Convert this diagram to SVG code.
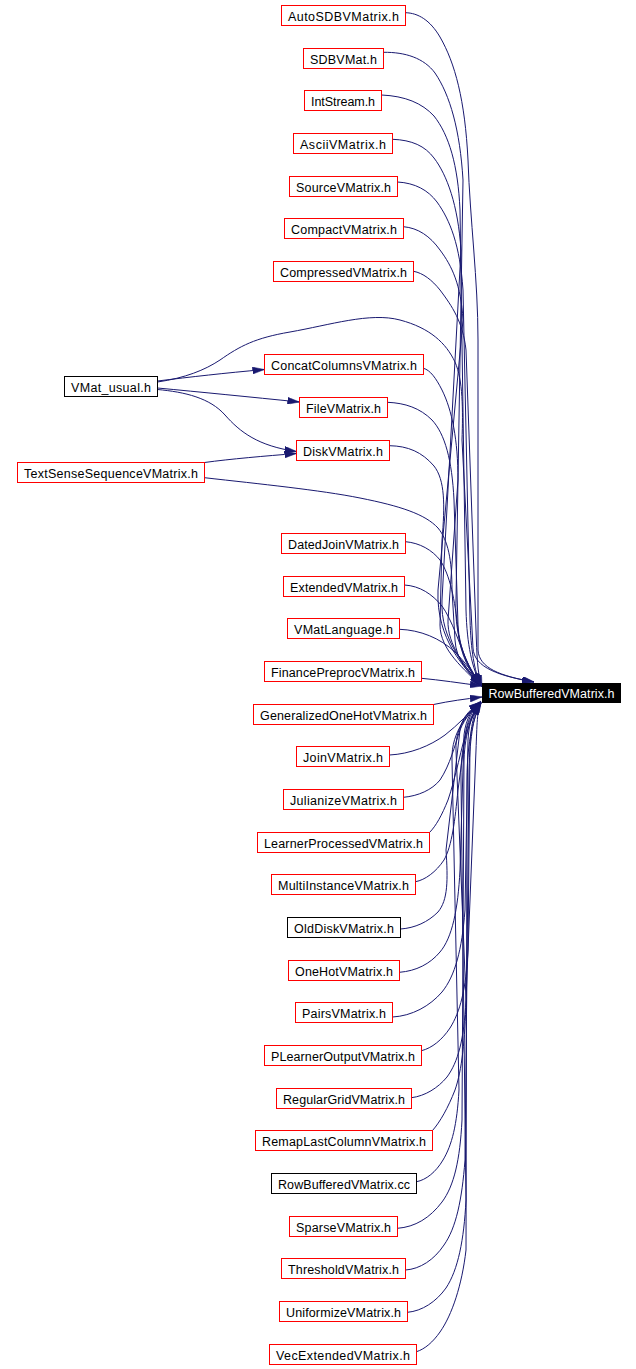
<svg xmlns="http://www.w3.org/2000/svg" width="636" height="1369" viewBox="0 0 636 1369">
<defs>
<style>
.n rect{fill:#fff;stroke:#f00;stroke-width:1;shape-rendering:crispEdges}
.n.k rect{stroke:#000}
.n text{font-family:"Liberation Sans",Arial,sans-serif;font-size:12.5px;fill:#000;text-anchor:middle}
#t rect{fill:#000;stroke:#000;stroke-width:1;shape-rendering:crispEdges}
#t text{font-family:"Liberation Sans",Arial,sans-serif;font-size:12.5px;fill:#fff;text-anchor:middle}
.e path{fill:none;stroke:#191970;stroke-width:1;marker-end:url(#a)}
</style>
<marker id="a" markerUnits="userSpaceOnUse" viewBox="0 0 12 7" refX="12" refY="3.5" markerWidth="12" markerHeight="7" orient="auto">
<path d="M0,0 L12,3.5 L0,7 z" fill="#191970" stroke="#191970" stroke-width="0.5"/>
</marker>
</defs>
<rect width="636" height="1369" fill="#fff"/>
<g class="e" id="edges">
<path d="M405.5,12.7 C418,13 430,20 440,37 C455,63 465,100 468,160 C470,220 478,280 478,340 L478,650 C479,668 500,676 534,682"/>
<path d="M157.5,382 C185,378 205,370 220,360 C240,346 255,338 290,332 C330,325 370,312 400,320 C430,328 446,343 455,362 C463,380 463,410 462,440 L473,648 C474,668 500,676 534,682"/>
<path d="M383.5,52.3 C405,52 424,58 435,73 C450,95 460,130 463,180 L456,600 C454,640 468,668 481,684"/>
<path d="M381.5,95 C405,96 422,103 434,116 C449,135 458,165 460,210 L466,610 C467,645 472,668 481,685"/>
<path d="M392.5,139.3 C412,140 425,146 434,158 C447,175 458,205 461,250 L442,600 C440,640 466,668 481,685"/>
<path d="M397.5,182 C415,183 428,190 437,202 C450,220 460,245 463,290 L470,620 C471,650 474,670 481,686"/>
<path d="M403.5,226.7 C418,228 430,236 440,250 C452,266 461,285 463,320 L438,590 C436,640 465,668 481,686"/>
<path d="M413.5,271.3 C423,273 432,280 440,290 C452,306 463,322 466,350 L476,630 C477,655 477,672 482,687"/>
<path d="M423.5,368.3 C430,370 436,378 442,390 C452,410 458,440 458,480 L448,620 C447,645 466,668 481,685"/>
<path d="M387.5,402.3 C405,403 420,408 432,420 C445,434 452,460 454,500 L458,625 C459,650 470,670 481,685"/>
<path d="M389.5,445.7 C408,446 422,452 434,466 C445,480 445,505 442,540 L440,625 C440,650 465,670 481,686"/>
<path d="M204.5,477.7 C260,484 320,490 360,498 C400,506 425,514 438,528 C448,540 452,560 452,590 L455,640 C456,660 468,672 481,686"/>
<path d="M405.5,541.7 C420,543 432,550 440,560 C450,575 455,600 458,630 C460,655 470,672 481,686"/>
<path d="M404.5,585 C420,586 432,594 442,606 C452,620 460,645 466,660 C470,670 475,678 481,686"/>
<path d="M399.5,629.3 C420,630 440,638 455,652 C465,662 474,674 481,686"/>
<path d="M421.5,678.3 C440,680 460,683 482,686"/>
<path d="M433.5,704.5 C450,701 465,699 482,697"/>
<path d="M389.5,755 C410,754 430,746 445,735 C458,725 470,712 481,701"/>
<path d="M403.5,797.3 C418,796 432,790 440,780 C450,765 455,745 460,730 C465,718 472,710 481,702"/>
<path d="M429.5,832.5 C436,826 442,815 448,800 C455,780 462,745 468,725 C472,715 476,708 481,702"/>
<path d="M415.5,881.7 C425,880 436,872 444,860 C452,846 455,820 458,790 L466,730 C469,716 474,708 481,702"/>
<path d="M400.5,929 C415,928 428,922 438,912 C448,900 448,880 446,850 L460,730 C462,716 472,708 481,702"/>
<path d="M399.5,972.3 C416,971 430,964 440,952 C452,938 458,910 460,870 L464,735 C466,718 472,709 481,702"/>
<path d="M392.5,1017 C412,1016 430,1006 442,992 C455,976 462,950 465,910 L468,740 C469,720 474,710 481,702"/>
<path d="M421.5,1050.7 C432,1048 442,1040 450,1028 C460,1012 466,990 468,950 L470,745 C471,722 475,710 481,702"/>
<path d="M411.5,1097.7 C425,1096 438,1088 447,1077 C458,1062 464,1040 466,1000 L456,750 C455,725 470,710 481,702"/>
<path d="M432.5,1130.5 C440,1122 448,1108 455,1090 C462,1070 465,1040 466,1000 L476,750 C477,725 477,710 481,702"/>
<path d="M416.5,1181.7 C426,1180 436,1172 443,1160 C452,1145 457,1125 459,1090 L452,760 C451,730 470,712 481,703"/>
<path d="M397.5,1228.3 C415,1227 430,1218 442,1202 C454,1186 460,1160 462,1120 L464,760 C465,732 472,712 481,703"/>
<path d="M405.5,1270 C420,1269 434,1260 444,1245 C456,1228 462,1200 465,1160 L469,770 C470,735 474,714 481,703"/>
<path d="M407.5,1312.3 C422,1311 436,1302 446,1288 C458,1270 464,1240 466,1200 L461,780 C460,740 472,715 481,703"/>
<path d="M416.5,1351.7 C425,1349 433,1342 440,1332 C452,1315 462,1285 466,1250 L467,780 C467,740 474,716 481,703"/>
<path d="M157.5,381 C190,377 225,373 264.5,369.5"/>
<path d="M157.5,388 C200,392 250,397 299.5,402"/>
<path d="M157.5,389.5 C185,392 210,398 225,415 C240,432 258,446 296.5,451.5"/>
<path d="M204.5,462.5 C230,459 265,456 296.5,453.5"/>
</g>
<g id="t"><rect x="482.5" y="683.5" width="138" height="18.5"/><text x="551.5" y="697.5" textLength="126" lengthAdjust="spacing">RowBufferedVMatrix.h</text></g>
<g class="n" id="n1"><rect x="281.5" y="5.5" width="124" height="20"/><text x="343.5" y="21" textLength="111" lengthAdjust="spacing">AutoSDBVMatrix.h</text></g>
<g class="n" id="n2"><rect x="303.5" y="48.5" width="80" height="20"/><text x="343.5" y="64" textLength="67" lengthAdjust="spacing">SDBVMat.h</text></g>
<g class="n" id="n3"><rect x="304.5" y="90.5" width="77" height="20"/><text x="343" y="106" textLength="64" lengthAdjust="spacing">IntStream.h</text></g>
<g class="n" id="n4"><rect x="293.5" y="133.5" width="99" height="20"/><text x="343" y="149" textLength="86" lengthAdjust="spacing">AsciiVMatrix.h</text></g>
<g class="n" id="n5"><rect x="289.5" y="176.5" width="108" height="20"/><text x="343.5" y="192" textLength="95" lengthAdjust="spacing">SourceVMatrix.h</text></g>
<g class="n" id="n6"><rect x="284.5" y="218.5" width="119" height="20"/><text x="344" y="234" textLength="106" lengthAdjust="spacing">CompactVMatrix.h</text></g>
<g class="n" id="n7"><rect x="273.5" y="261.5" width="140" height="20"/><text x="343.5" y="277" textLength="127" lengthAdjust="spacing">CompressedVMatrix.h</text></g>
<g class="n" id="n8"><rect x="264.5" y="354.5" width="159" height="20"/><text x="344" y="370" textLength="146" lengthAdjust="spacing">ConcatColumnsVMatrix.h</text></g>
<g class="n" id="n9"><rect x="299.5" y="397.5" width="88" height="20"/><text x="343.5" y="413" textLength="75" lengthAdjust="spacing">FileVMatrix.h</text></g>
<g class="n" id="n10"><rect x="296.5" y="440.5" width="93" height="20"/><text x="343" y="456" textLength="80" lengthAdjust="spacing">DiskVMatrix.h</text></g>
<g class="n k" id="n11"><rect x="64.5" y="376.5" width="93" height="20"/><text x="111" y="392" textLength="80" lengthAdjust="spacing">VMat_usual.h</text></g>
<g class="n" id="n12"><rect x="17.5" y="462.5" width="187" height="20"/><text x="111" y="478" textLength="174" lengthAdjust="spacing">TextSenseSequenceVMatrix.h</text></g>
<g class="n" id="n13"><rect x="281.5" y="533.5" width="124" height="20"/><text x="343.5" y="549" textLength="111" lengthAdjust="spacing">DatedJoinVMatrix.h</text></g>
<g class="n" id="n14"><rect x="283.5" y="576.5" width="121" height="20"/><text x="344" y="592" textLength="108" lengthAdjust="spacing">ExtendedVMatrix.h</text></g>
<g class="n" id="n15"><rect x="287.5" y="618.5" width="112" height="20"/><text x="343.5" y="634" textLength="99" lengthAdjust="spacing">VMatLanguage.h</text></g>
<g class="n" id="n16"><rect x="264.5" y="661.5" width="157" height="20"/><text x="343" y="677" textLength="144" lengthAdjust="spacing">FinancePreprocVMatrix.h</text></g>
<g class="n" id="n17"><rect x="253.5" y="704.5" width="180" height="20"/><text x="343.5" y="720" textLength="167" lengthAdjust="spacing">GeneralizedOneHotVMatrix.h</text></g>
<g class="n" id="n18"><rect x="296.5" y="746.5" width="93" height="20"/><text x="343" y="762" textLength="80" lengthAdjust="spacing">JoinVMatrix.h</text></g>
<g class="n" id="n19"><rect x="283.5" y="789.5" width="120" height="20"/><text x="343.5" y="805" textLength="107" lengthAdjust="spacing">JulianizeVMatrix.h</text></g>
<g class="n" id="n20"><rect x="257.5" y="832.5" width="172" height="20"/><text x="343.5" y="848" textLength="159" lengthAdjust="spacing">LearnerProcessedVMatrix.h</text></g>
<g class="n" id="n21"><rect x="271.5" y="874.5" width="144" height="20"/><text x="343.5" y="890" textLength="131" lengthAdjust="spacing">MultiInstanceVMatrix.h</text></g>
<g class="n k" id="n22"><rect x="287.5" y="917.5" width="113" height="20"/><text x="344" y="933" textLength="100" lengthAdjust="spacing">OldDiskVMatrix.h</text></g>
<g class="n" id="n23"><rect x="288.5" y="960.5" width="111" height="20"/><text x="344" y="976" textLength="98" lengthAdjust="spacing">OneHotVMatrix.h</text></g>
<g class="n" id="n24"><rect x="295.5" y="1002.5" width="97" height="20"/><text x="344" y="1018" textLength="84" lengthAdjust="spacing">PairsVMatrix.h</text></g>
<g class="n" id="n25"><rect x="264.5" y="1045.5" width="157" height="20"/><text x="343" y="1061" textLength="144" lengthAdjust="spacing">PLearnerOutputVMatrix.h</text></g>
<g class="n" id="n26"><rect x="276.5" y="1088.5" width="135" height="20"/><text x="344" y="1104" textLength="122" lengthAdjust="spacing">RegularGridVMatrix.h</text></g>
<g class="n" id="n27"><rect x="255.5" y="1130.5" width="177" height="20"/><text x="344" y="1146" textLength="164" lengthAdjust="spacing">RemapLastColumnVMatrix.h</text></g>
<g class="n k" id="n28"><rect x="271.5" y="1173.5" width="145" height="20"/><text x="344" y="1189" textLength="132" lengthAdjust="spacing">RowBufferedVMatrix.cc</text></g>
<g class="n" id="n29"><rect x="289.5" y="1216.5" width="108" height="20"/><text x="343.5" y="1232" textLength="95" lengthAdjust="spacing">SparseVMatrix.h</text></g>
<g class="n" id="n30"><rect x="281.5" y="1258.5" width="124" height="20"/><text x="343.5" y="1274" textLength="111" lengthAdjust="spacing">ThresholdVMatrix.h</text></g>
<g class="n" id="n31"><rect x="279.5" y="1301.5" width="128" height="20"/><text x="343.5" y="1317" textLength="115" lengthAdjust="spacing">UniformizeVMatrix.h</text></g>
<g class="n" id="n32"><rect x="269.5" y="1344.5" width="147" height="20"/><text x="343" y="1360" textLength="134" lengthAdjust="spacing">VecExtendedVMatrix.h</text></g>
</svg>
